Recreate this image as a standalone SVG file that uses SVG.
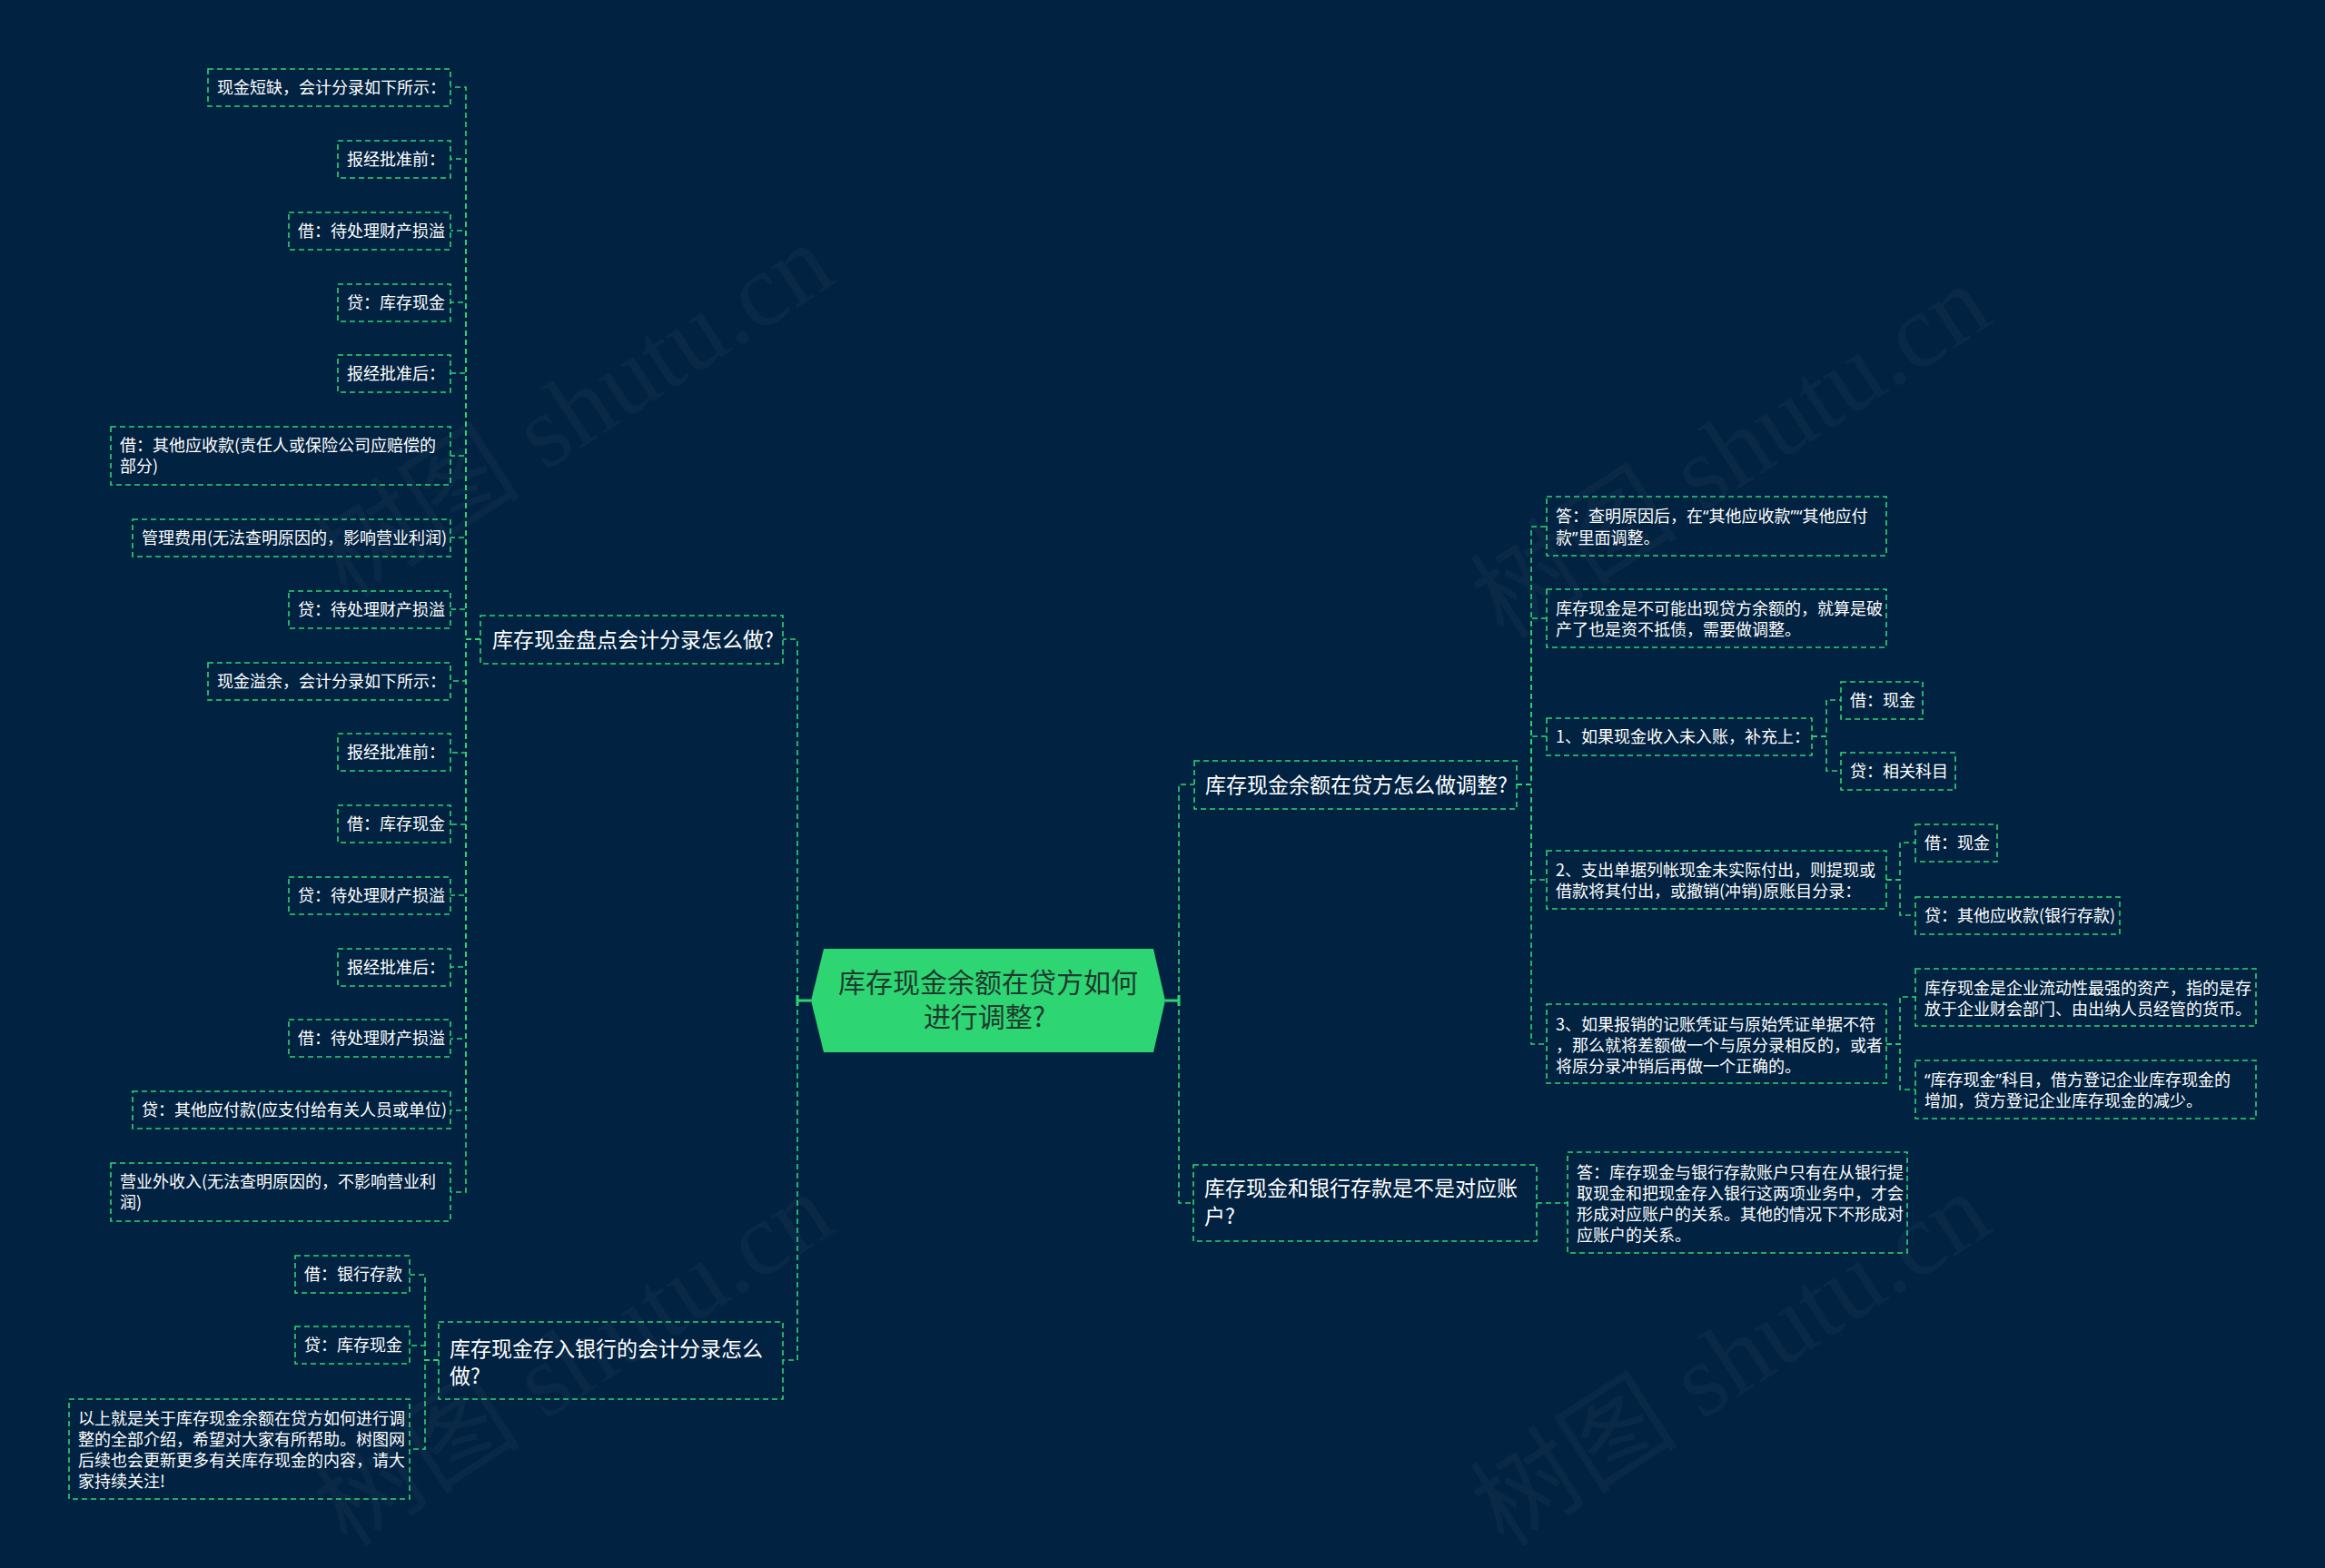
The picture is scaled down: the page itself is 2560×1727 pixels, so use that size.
<svg xmlns="http://www.w3.org/2000/svg" width="2560" height="1727" viewBox="0 0 2560 1727">
<style>
.bg{fill:#012241}
.box{fill:none;stroke:#2ed573;stroke-width:1.6;stroke-dasharray:6 4}
.link{fill:none;stroke:#2ed573;stroke-width:1.6;stroke-dasharray:6 4}
.stub{fill:none;stroke:#2ed573;stroke-width:3}
.t{font-family:"Noto Sans CJK SC","Noto Sans",sans-serif;font-size:18px;fill:#ffffff}
.q{font-family:"Noto Sans","Noto Sans CJK SC",sans-serif}
.tm{font-family:"Noto Sans CJK SC","Noto Sans",sans-serif;font-size:23px;fill:#ffffff}
.tr{font-family:"Noto Sans CJK SC","Noto Sans",sans-serif;font-size:30px;fill:#203a2f;text-anchor:middle}
.wm{font-family:"Liberation Serif","Noto Sans CJK SC",serif;font-size:115px;fill:#ffffff;fill-opacity:0.035}
</style>
<rect class="bg" x="0" y="0" width="2560" height="1727"/>
<g id="watermark">
<text class="wm" text-anchor="middle" transform="translate(653,485) rotate(-33)">树图 shutu.cn</text>
<text class="wm" text-anchor="middle" transform="translate(1927,530) rotate(-33)">树图 shutu.cn</text>
<text class="wm" text-anchor="middle" transform="translate(653,1530) rotate(-33)">树图 shutu.cn</text>
<text class="wm" text-anchor="middle" transform="translate(1927,1530) rotate(-33)">树图 shutu.cn</text>
</g>
<g id="connectors">
<path class="stub" d="M893,1102 H878 M878,1096 V1108"/>
<path class="stub" d="M1283,1102 H1298 M1298,1096 V1108"/>
<path class="link" d="M878,1102 V704 H862"/>
<path class="link" d="M878,1102 V1498 H862"/>
<path class="link" d="M1298,1102 V864 H1315"/>
<path class="link" d="M1298,1102 V1325 H1314"/>
<path class="link" d="M529,704 H513 V96 H496"/>
<path class="link" d="M529,704 H513 V175 H496"/>
<path class="link" d="M529,704 H513 V254 H496"/>
<path class="link" d="M529,704 H513 V333 H496"/>
<path class="link" d="M529,704 H513 V411 H496"/>
<path class="link" d="M529,704 H513 V502 H496"/>
<path class="link" d="M529,704 H513 V592 H496"/>
<path class="link" d="M529,704 H513 V671 H496"/>
<path class="link" d="M529,704 H513 V750 H496"/>
<path class="link" d="M529,704 H513 V829 H496"/>
<path class="link" d="M529,704 H513 V908 H496"/>
<path class="link" d="M529,704 H513 V986 H496"/>
<path class="link" d="M529,704 H513 V1065 H496"/>
<path class="link" d="M529,704 H513 V1144 H496"/>
<path class="link" d="M529,704 H513 V1223 H496"/>
<path class="link" d="M529,704 H513 V1313 H496"/>
<path class="link" d="M483,1498 H468 V1404 H451"/>
<path class="link" d="M483,1498 H468 V1482 H451"/>
<path class="link" d="M483,1498 H468 V1596 H451"/>
<path class="link" d="M1670,864 H1686 V580 H1703"/>
<path class="link" d="M1670,864 H1686 V681 H1703"/>
<path class="link" d="M1670,864 H1686 V811 H1703"/>
<path class="link" d="M1670,864 H1686 V969 H1703"/>
<path class="link" d="M1670,864 H1686 V1150 H1703"/>
<path class="link" d="M1995,811 H2011 V771 H2027"/>
<path class="link" d="M1995,811 H2011 V849 H2027"/>
<path class="link" d="M2077,969 H2092 V928 H2109"/>
<path class="link" d="M2077,969 H2092 V1008 H2109"/>
<path class="link" d="M2077,1150 H2092 V1098 H2109"/>
<path class="link" d="M2077,1150 H2092 V1200 H2109"/>
<path class="link" d="M1692,1325 H1709 V1325 H1726"/>
</g>
<g id="root">
<polygon points="893,1102 907,1045 1270,1045 1283,1102 1270,1159 907,1159" fill="#2ed573"/>
<text class="tr" x="1088" y="1093">库存现金余额在贷方如何</text>
<text class="tr" x="1084" y="1131">进行调整?</text>
</g>
<g id="n-pandian">
<rect class="box" x="529" y="678" width="333" height="53"/>
<text class="tm" x="542" y="713">库存现金盘点会计分录怎么做?</text>
</g>
<g id="n-L1"><rect class="box" x="229" y="76" width="267" height="41"/><text class="t" x="239" y="103">现金短缺，会计分录如下所示：</text></g>
<g id="n-L2"><rect class="box" x="372" y="155" width="124" height="41"/><text class="t" x="382" y="182">报经批准前：</text></g>
<g id="n-L3"><rect class="box" x="318" y="234" width="178" height="41"/><text class="t" x="328" y="261">借：待处理财产损溢</text></g>
<g id="n-L4"><rect class="box" x="372" y="313" width="124" height="41"/><text class="t" x="382" y="340">贷：库存现金</text></g>
<g id="n-L5"><rect class="box" x="372" y="391" width="124" height="41"/><text class="t" x="382" y="418">报经批准后：</text></g>
<g id="n-L6"><rect class="box" x="122" y="470" width="374" height="64"/><text class="t" x="132" y="497">借：其他应收款(责任人或保险公司应赔偿的</text><text class="t" x="132" y="520">部分)</text></g>
<g id="n-L7"><rect class="box" x="146" y="572" width="350" height="41"/><text class="t" x="156" y="599">管理费用(无法查明原因的，影响营业利润)</text></g>
<g id="n-L8"><rect class="box" x="318" y="651" width="178" height="41"/><text class="t" x="328" y="678">贷：待处理财产损溢</text></g>
<g id="n-L9"><rect class="box" x="229" y="730" width="267" height="41"/><text class="t" x="239" y="757">现金溢余，会计分录如下所示：</text></g>
<g id="n-L10"><rect class="box" x="372" y="808" width="124" height="41"/><text class="t" x="382" y="835">报经批准前：</text></g>
<g id="n-L11"><rect class="box" x="372" y="887" width="124" height="41"/><text class="t" x="382" y="914">借：库存现金</text></g>
<g id="n-L12"><rect class="box" x="318" y="966" width="178" height="41"/><text class="t" x="328" y="993">贷：待处理财产损溢</text></g>
<g id="n-L13"><rect class="box" x="372" y="1045" width="124" height="41"/><text class="t" x="382" y="1072">报经批准后：</text></g>
<g id="n-L14"><rect class="box" x="318" y="1123" width="178" height="41"/><text class="t" x="328" y="1150">借：待处理财产损溢</text></g>
<g id="n-L15"><rect class="box" x="146" y="1202" width="350" height="41"/><text class="t" x="156" y="1229">贷：其他应付款(应支付给有关人员或单位)</text></g>
<g id="n-L16"><rect class="box" x="122" y="1281" width="374" height="64"/><text class="t" x="132" y="1308">营业外收入(无法查明原因的，不影响营业利</text><text class="t" x="132" y="1331">润)</text></g>
<g id="n-bank">
<rect class="box" x="483" y="1456" width="379" height="85"/>
<text class="tm" x="495" y="1494">库存现金存入银行的会计分录怎么</text>
<text class="tm" x="495" y="1524">做?</text>
</g>
<g id="n-B1"><rect class="box" x="325" y="1383" width="126" height="41"/><text class="t" x="335" y="1410">借：银行存款</text></g>
<g id="n-B2"><rect class="box" x="325" y="1461" width="126" height="41"/><text class="t" x="335" y="1488">贷：库存现金</text></g>
<g id="n-B3"><rect class="box" x="76" y="1541" width="375" height="110"/>
<text class="t" x="86" y="1569">以上就是关于库存现金余额在贷方如何进行调</text>
<text class="t" x="86" y="1592">整的全部介绍，希望对大家有所帮助。树图网</text>
<text class="t" x="86" y="1615">后续也会更新更多有关库存现金的内容，请大</text>
<text class="t" x="86" y="1638">家持续关注!</text>
</g>
<g id="n-daifang">
<rect class="box" x="1315" y="838" width="355" height="53"/>
<text class="tm" x="1327" y="873">库存现金余额在贷方怎么做调整?</text>
</g>
<g id="n-Ra"><rect class="box" x="1703" y="547" width="374" height="65"/><text class="t" x="1713" y="575">答：查明原因后，在<tspan class="q">“</tspan>其他应收款<tspan class="q">”“</tspan>其他应付</text><text class="t" x="1713" y="599">款<tspan class="q">”</tspan>里面调整。</text></g>
<g id="n-Rb"><rect class="box" x="1703" y="649" width="374" height="64"/><text class="t" x="1713" y="677">库存现金是不可能出现贷方余额的，就算是破</text><text class="t" x="1713" y="700">产了也是资不抵债，需要做调整。</text></g>
<g id="n-Rc"><rect class="box" x="1703" y="791" width="292" height="41"/><text class="t" x="1713" y="818">1、如果现金收入未入账，补充上：</text></g>
<g id="n-Rc1"><rect class="box" x="2027" y="751" width="90" height="41"/><text class="t" x="2037" y="778">借：现金</text></g>
<g id="n-Rc2"><rect class="box" x="2027" y="829" width="126" height="41"/><text class="t" x="2037" y="856">贷：相关科目</text></g>
<g id="n-Rd"><rect class="box" x="1703" y="937" width="374" height="64"/><text class="t" x="1713" y="965">2、支出单据列帐现金未实际付出，则提现或</text><text class="t" x="1713" y="988">借款将其付出，或撤销(冲销)原账目分录：</text></g>
<g id="n-Rd1"><rect class="box" x="2109" y="908" width="90" height="41"/><text class="t" x="2119" y="935">借：现金</text></g>
<g id="n-Rd2"><rect class="box" x="2109" y="988" width="225" height="41"/><text class="t" x="2119" y="1015">贷：其他应收款(银行存款)</text></g>
<g id="n-Re"><rect class="box" x="1703" y="1106" width="374" height="87"/><text class="t" x="1713" y="1135">3、如果报销的记账凭证与原始凭证单据不符</text><text class="t" x="1713" y="1158">，那么就将差额做一个与原分录相反的，或者</text><text class="t" x="1713" y="1181">将原分录冲销后再做一个正确的。</text></g>
<g id="n-Re1"><rect class="box" x="2109" y="1067" width="375" height="63"/><text class="t" x="2119" y="1095">库存现金是企业流动性最强的资产，指的是存</text><text class="t" x="2119" y="1118">放于企业财会部门、由出纳人员经管的货币。</text></g>
<g id="n-Re2"><rect class="box" x="2109" y="1168" width="375" height="64"/><text class="t" x="2119" y="1196"><tspan class="q">“</tspan>库存现金<tspan class="q">”</tspan>科目，借方登记企业库存现金的</text><text class="t" x="2119" y="1219">增加，贷方登记企业库存现金的减少。</text></g>
<g id="n-duiying">
<rect class="box" x="1314" y="1283" width="378" height="84"/>
<text class="tm" x="1326" y="1317">库存现金和银行存款是不是对应账</text>
<text class="tm" x="1326" y="1348">户?</text>
</g>
<g id="n-Rf"><rect class="box" x="1726" y="1269" width="374" height="111"/>
<text class="t" x="1736" y="1298">答：库存现金与银行存款账户只有在从银行提</text>
<text class="t" x="1736" y="1321">取现金和把现金存入银行这两项业务中，才会</text>
<text class="t" x="1736" y="1344">形成对应账户的关系。其他的情况下不形成对</text>
<text class="t" x="1736" y="1367">应账户的关系。</text>
</g>
</svg>
